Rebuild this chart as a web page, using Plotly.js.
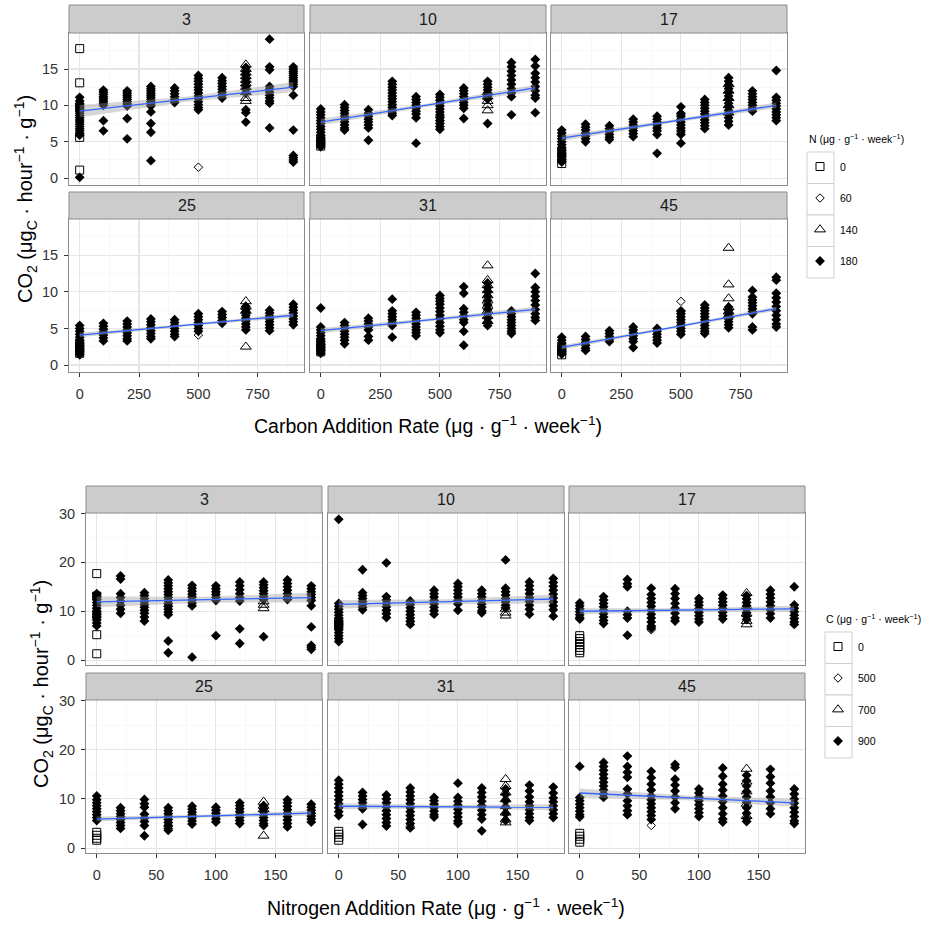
<!DOCTYPE html>
<html><head><meta charset="utf-8">
<script src="https://cdn.plot.ly/plotly-3.0.1.min.js"></script>
<style>html,body{margin:0;padding:0;background:#fff}#chart{width:929px;height:925px}</style>
</head><body><div id="chart"></div>
<script>
// ---------- categories ----------
const facets = ["3", "10", "17", "25", "31", "45"];
const carbonRates = [0, 100, 200, 300, 400, 500, 600, 700, 800, 900];
const nitrogenRates = [0, 20, 40, 60, 80, 100, 120, 140, 160, 180];
const nLevels = ["0", "60", "140", "180"];
const cLevels = ["0", "500", "700", "900"];
// rate at which the open-shape groups occur (top: carbon rate; bottom: nitrogen rate)
const topSquareAt = 0, topOpenDiaAt = 500, topTriAt = 700;
const botSquareAt = 0, botOpenDiaAt = 60, botTriAt = 140;

// ---------- TOP figure: CO2 vs carbon addition rate ----------
// filled diamonds (N = 180), one list per carbon rate
const topFilled3 = [
 [11.1,10.6,10.2,9.8,9.5,9.2,8.9,8.6,8.3,8.0,7.7,7.4,7.1,6.8,6.5,6.2,5.9,0.1],
 [12.1,11.8,11.5,11.2,10.9,10.6,10.3,10.0,7.9,6.5],
 [12.0,11.7,11.4,11.1,10.8,10.5,10.2,9.9,8.2,5.4],
 [12.6,12.3,12.0,11.7,11.4,11.1,10.8,10.5,10.2,9.9,9.1,7.5,6.3,2.4],
 [12.4,12.0,11.6,11.2,10.8,10.4],
 [14.1,13.7,13.3,12.9,12.5,12.1,11.7,11.3,10.9,10.5,10.1,9.7,9.4],
 [13.8,13.4,13.0,12.6,12.2,11.8,11.4,11.0],
 [15.2,14.7,14.2,13.7,13.2,12.7,12.2,11.7,9.4,9.0,7.7],
 [19.1,15.3,14.9,12.6,12.2,11.8,11.4,11.0,10.6,10.3,6.9],
 [15.3,15.0,14.7,14.4,14.1,13.8,13.5,13.2,12.9,12.6,11.4,6.6,3.1,2.8,2.5,2.2]
];
const topSquare3 = [17.8,13.1,9.8,5.6,1.1];
const topOpenDia3 = [1.5];
const topTri3 = [15.6,15.0,14.5,14.0,13.5,13.0,12.5,11.8,11.0,10.6];

const topFilled10 = [
 [9.5,9.1,8.7,8.3,7.9,7.5,7.1,6.7,6.3,5.9,5.5,5.1,4.7,4.3],
 [10.1,9.7,9.3,8.9,8.5,8.1,7.7,7.3,6.9,6.6],
 [9.4,8.9,8.5,8.1,7.7,7.3,6.9,5.2],
 [13.3,12.9,12.5,12.1,11.7,11.3,10.9,10.5,10.1,9.7,9.3,8.9,8.6],
 [11.2,10.8,10.4,10.0,9.6,9.2,8.8,8.3,4.8],
 [11.5,11.1,10.7,10.3,9.9,9.5,9.1,8.7,8.3,7.9,7.5,7.1,6.7],
 [12.4,12.0,11.6,11.2,10.8,10.4,10.0,9.6,8.2],
 [13.3,12.9,12.5,12.1,11.7,11.3,10.9,7.5],
 [15.9,15.3,14.7,14.1,13.5,12.9,12.3,11.7,11.2,8.7],
 [16.3,15.4,14.4,13.8,13.2,12.6,12.0,11.4,11.0,9.0]
];
const topSquare10 = [5.4,4.9,4.4];
const topOpenDia10 = [8.5,7.9];
const topTri10 = [11.8,11.2,10.6,10.0,9.3];

const topFilled17 = [
 [6.6,6.2,5.8,5.4,5.0,4.6,4.2,3.8,3.4,3.0,2.6,2.2],
 [7.4,7.0,6.6,6.2,5.8,5.4,5.0],
 [7.2,6.8,6.4,6.0,5.6,5.3],
 [8.1,7.7,7.3,6.9,6.5,6.1,5.7],
 [8.5,8.1,7.7,7.3,6.9,6.5,6.0,3.4],
 [9.8,8.9,8.5,8.1,7.7,7.3,6.9,6.5,6.0,4.8],
 [10.8,10.4,10.0,9.6,9.2,8.8,8.4,8.0,7.6,7.2,6.8],
 [13.8,13.3,12.8,12.3,11.8,11.3,10.8,10.3,9.8,9.3,8.8,8.3,7.8,7.3],
 [12.0,11.6,11.2,10.8,10.4,10.0,9.6,9.2],
 [14.8,11.1,10.7,10.3,9.9,9.5,9.1,8.7,8.3,7.9]
];
const topSquare17 = [3.6,2.8,2.0];
const topOpenDia17 = [8.7,6.2];
const topTri17 = [12.9,12.0,11.0,10.0,9.0];

const topFilled25 = [
 [5.4,5.0,4.6,4.2,3.8,3.4,3.0,2.6,2.2,1.8,1.4],
 [5.7,5.3,4.9,4.5,4.1,3.7,3.3],
 [6.0,5.6,5.2,4.8,4.4,4.0,3.6,3.3],
 [6.3,5.9,5.5,5.1,4.7,4.3,3.9,3.6],
 [6.2,5.8,5.4,5.0,4.6,4.2,3.9],
 [7.0,6.6,6.2,5.8,5.4,5.0,4.6],
 [7.3,6.9,6.5,6.1,5.7],
 [8.0,7.6,7.2,6.8,6.4,6.0,5.6,5.2,4.8],
 [7.5,7.1,6.7,6.3,5.9,5.5,5.1,4.7],
 [8.3,7.9,7.5,7.1,6.7,6.3,5.9,5.5]
];
const topSquare25 = [3.0,2.5,2.0,1.6];
const topOpenDia25 = [4.1];
const topTri25 = [8.7,8.0,7.4,2.5];

const topFilled31 = [
 [7.8,5.2,4.8,4.4,4.0,3.6,3.2,2.8,2.4,2.0,1.6],
 [5.8,5.4,5.0,4.6,4.2,3.8,3.4,2.9],
 [6.4,6.0,5.6,5.2,4.8,3.9,3.4],
 [9.0,7.4,7.0,6.6,6.2,5.8,5.4,3.8],
 [7.2,6.8,6.4,6.0,5.6,5.2,4.8,4.4,4.0],
 [9.5,9.1,8.7,8.3,7.8,7.3,6.8,6.3,5.8,5.3,4.8,4.4],
 [10.7,9.8,7.7,7.2,6.7,6.2,5.8,4.6,2.7],
 [11.2,10.6,10.0,9.4,8.8,8.2,7.6,7.0,6.4,5.8,5.4],
 [7.4,7.0,6.6,6.2,5.8,5.4,5.0,4.6,4.3],
 [12.5,10.6,10.0,9.4,8.8,8.2,7.6,7.0,6.5,6.1]
];
const topSquare31 = [3.0,2.4,1.8];
const topOpenDia31 = [6.4];
const topTri31 = [13.6,11.6,10.9,10.2,9.5,8.8,8.1,7.4,6.7,6.0];

const topFilled45 = [
 [3.8,3.4,3.0,2.6,2.2,1.8,1.5],
 [3.9,3.5,3.1,2.7,2.3,2.0],
 [4.7,4.3,3.9,3.5,3.2],
 [5.2,4.8,4.4,4.0,3.6,3.2,2.4],
 [5.0,4.6,4.2,3.8,3.4,3.0],
 [7.4,7.0,6.6,6.2,5.8,5.4,5.0,4.6,4.2],
 [8.2,7.8,7.4,7.0,6.6,6.2,5.8,5.4,5.0,4.6,4.3],
 [7.9,7.5,7.1,6.7,6.3,5.9,5.5,5.1],
 [10.2,9.3,8.9,8.5,8.1,7.7,7.3,7.0,5.2,4.8],
 [12.0,11.6,9.8,9.2,8.6,8.0,7.4,6.8,6.2,5.6,5.2]
];
const topSquare45 = [2.4,1.9,1.4];
const topOpenDia45 = [8.7,7.3];
const topTri45 = [16.0,11.0,9.1,7.9,7.3,6.8];

// linear fit (value at first and last rate) and CI half-width at start/mid/end
const topFitStart = [9.2, 7.7, 5.5, 4.1, 4.7, 2.4];
const topFitEnd = [12.5, 12.4, 10.0, 6.8, 7.6, 7.7];
const topBandHalf = [[0.85,0.35,0.7],[0.45,0.2,0.45],[0.4,0.2,0.4],[0.3,0.15,0.3],[0.35,0.2,0.35],[0.3,0.15,0.3]];

// ---------- BOTTOM figure: CO2 vs nitrogen addition rate ----------
const botFilled3 = [
 [13.6,13.0,12.4,11.8,11.2,10.6,10.0,9.4,8.8,8.2,7.6,7.0],
 [17.2,16.6,13.6,12.8,12.0,11.2,10.4,9.6],
 [13.8,13.2,12.6,12.0,11.4,10.8,10.2,9.6,8.8,8.0],
 [16.4,15.8,15.2,14.6,14.0,13.4,12.8,12.2,11.6,11.0,10.4,9.8,9.3,3.9,1.5],
 [15.3,14.7,14.1,13.5,12.9,12.3,11.7,11.1,0.6],
 [15.2,14.6,14.0,13.4,12.8,12.2,5.0],
 [16.0,15.2,14.4,13.6,12.8,12.1,6.4,3.4],
 [16.0,15.4,14.8,14.2,13.6,13.0,12.4,4.8],
 [16.4,15.7,15.0,14.3,13.6,12.9,12.4],
 [15.2,14.6,14.0,13.4,12.8,12.2,11.1,6.8,3.0,2.6,2.2]
];
const botSquare3 = [17.7,13.1,9.3,5.2,1.3];
const botOpenDia3 = [11.5,11.0];
const botTri3 = [12.0,11.3,10.6];

const botFilled10 = [
 [28.8,11.6,11.0,10.4,9.8,9.2,8.6,8.0,7.4,6.8,6.2,5.6,5.0,4.4,3.8],
 [18.5,13.8,13.2,12.6,12.0,11.4,10.8,10.3],
 [19.9,13.0,12.3,11.6,10.9,10.2,9.5,8.7],
 [12.1,11.4,10.7,10.0,9.3,8.6,7.9,7.3],
 [14.3,13.6,12.9,12.2,11.5,10.8,10.1,9.4],
 [15.7,15.0,14.3,13.6,12.9,12.2,11.5,10.2],
 [14.3,13.6,12.9,12.2,11.5,10.8,10.1,9.7],
 [20.5,14.7,14.0,13.3,12.6,11.9,11.2,10.7],
 [16.0,15.2,14.4,13.6,12.8,12.0,11.2,10.4,9.4],
 [16.7,15.9,15.1,14.3,13.5,12.7,11.9,11.1,10.3,9.0]
];
const botSquare10 = [7.8,7.0];
const botOpenDia10 = [8.0];
const botTri10 = [10.5,9.7,9.1];

const botFilled17 = [
 [11.7,11.1,10.5,9.9,9.3,8.7,8.4],
 [13.0,12.3,11.6,10.9,10.2,9.5,8.8,8.1,7.5],
 [16.5,15.6,15.0,10.0,9.3,8.6,5.1],
 [14.7,13.4,12.6,11.8,11.0,10.2,9.4,8.6,7.8,7.0,6.5],
 [14.6,13.6,12.6,11.6,10.6,9.6,8.6,8.0],
 [12.6,11.9,11.2,10.5,9.8,9.1,8.4,7.8],
 [13.3,12.6,11.9,11.2,10.5,9.8,9.1,8.4],
 [13.2,12.5,11.8,11.1,10.4,9.7,9.0,8.3],
 [14.3,13.5,12.7,11.9,11.1,10.3,9.5,8.6],
 [15.0,11.3,10.6,9.9,9.2,8.5,7.8,7.3]
];
const botSquare17 = [5.0,4.4,3.8,3.2,2.6,2.0,1.5];
const botOpenDia17 = [6.8,6.2];
const botTri17 = [13.7,11.0,9.5,8.0,7.3];

const botFilled25 = [
 [10.6,9.8,9.2,8.6,8.0,7.4,6.8,6.2,5.6],
 [8.2,7.6,7.0,6.4,5.8,5.2,4.6,4.0],
 [9.9,9.0,8.3,6.9,6.1,5.4,4.6,2.5],
 [8.2,7.6,7.0,6.4,5.8,5.2,4.6,4.0,3.6],
 [8.5,7.9,7.3,6.7,6.1,5.5,4.9],
 [8.3,7.7,7.1,6.5,5.9,5.3],
 [9.2,8.6,8.0,7.4,6.8,6.2,5.6,5.0],
 [8.6,8.0,7.4,6.8,6.2,5.6,5.0,4.6],
 [9.8,9.2,8.5,7.8,7.1,6.4,5.7,5.0,4.3],
 [8.9,8.3,7.7,7.1,6.5,5.9,5.3]
];
const botSquare25 = [3.2,2.6,2.0,1.6];
const botOpenDia25 = [4.4];
const botTri25 = [9.4,8.6,7.9,2.5];

const botFilled31 = [
 [13.8,13.0,12.2,11.4,10.6,9.8,9.0,8.2,7.4,6.6],
 [11.3,10.6,9.9,9.2,8.5,8.0,4.8],
 [10.8,10.0,9.2,8.4,7.6,6.8,6.0,5.2,4.5],
 [12.2,11.4,10.6,9.8,9.0,8.2,7.4,6.6,5.8,5.0,4.1],
 [10.3,9.6,8.9,8.2,7.5,6.8,6.3],
 [13.2,10.3,9.5,8.7,7.9,7.1,6.3,5.5,5.0],
 [12.2,11.3,10.4,9.5,8.6,7.7,6.8,5.9,3.5],
 [12.0,10.9,9.6,8.3,7.0,5.6],
 [12.8,11.6,10.4,9.4,8.6,7.8,7.0,6.2,5.6],
 [12.4,11.2,10.2,9.4,8.6,7.8,7.0,6.2]
];
const botSquare31 = [3.4,2.8,2.2,1.6];
const botOpenDia31 = [4.4];
const botTri31 = [14.0,12.6,11.3,9.9,8.5,7.2,5.8,5.2];

const botFilled45 = [
 [16.6,10.3,9.6,8.9,8.2,7.5,6.8,6.3],
 [17.4,16.6,15.8,15.0,14.2,13.4,12.6,11.8,11.0,10.3],
 [18.7,16.6,15.4,14.4,12.0,11.0,9.6,8.6,7.6,6.8],
 [15.6,14.3,13.0,11.8,10.6,9.8,9.0,8.2,7.4,6.6,5.8],
 [17.0,16.4,14.0,12.8,11.6,10.4,9.2,8.0],
 [12.0,11.2,10.4,9.6,8.8,8.0,7.2,6.4],
 [16.3,14.6,13.0,11.8,10.6,9.4,8.2,7.0,5.9,5.3],
 [14.8,13.7,12.6,11.5,10.4,9.3,8.2,7.1,6.0,5.4],
 [16.0,14.5,13.2,11.6,10.4,9.2,8.0,7.0],
 [12.0,11.0,10.0,9.1,8.2,7.3,6.4,5.5,5.0]
];
const botSquare45 = [3.0,2.4,1.8,1.2];
const botOpenDia45 = [4.6];
const botTri45 = [16.1,13.5,11.5,9.0,6.5];

const botFitStart = [11.9, 11.4, 10.0, 5.9, 8.5, 11.2];
const botFitEnd = [12.8, 12.5, 10.5, 7.1, 8.3, 9.2];
const botBandHalf = [[1.1,0.6,1.0],[0.9,0.5,0.9],[0.6,0.35,0.6],[0.5,0.3,0.5],[0.6,0.35,0.6],[0.9,0.5,0.8]];

// ---------- build ----------
const W = 929, H = 925;
const FONT = "Liberation Sans, Arial, sans-serif";
const topCols = [[69,304],[310,546],[551,787]];
const topRows = [[33,185],[219,372]];
const topStrips = [[5,33],[192,219]];
const botCols = [[86,322],[328,564],[569,805]];
const botRows = [[513,665],[700,853]];
const botStrips = [[486,513],[673,700]];

const figs = [
  {rates: carbonRates, filled: [topFilled3,topFilled10,topFilled17,topFilled25,topFilled31,topFilled45],
   sq: [topSquare3,topSquare10,topSquare17,topSquare25,topSquare31,topSquare45],
   od: [topOpenDia3,topOpenDia10,topOpenDia17,topOpenDia25,topOpenDia31,topOpenDia45],
   tr: [topTri3,topTri10,topTri17,topTri25,topTri31,topTri45],
   sqAt: topSquareAt, odAt: topOpenDiaAt, trAt: topTriAt,
   fs: topFitStart, fe: topFitEnd, bh: topBandHalf, levels: nLevels, legend: 'legend',
   cols: topCols, rows: topRows, strips: topStrips,
   xr: [-45, 945], yr: [-0.95, 19.95], xd: 250, xm: 125, yd: 5, ym: 2.5},
  {rates: nitrogenRates, filled: [botFilled3,botFilled10,botFilled17,botFilled25,botFilled31,botFilled45],
   sq: [botSquare3,botSquare10,botSquare17,botSquare25,botSquare31,botSquare45],
   od: [botOpenDia3,botOpenDia10,botOpenDia17,botOpenDia25,botOpenDia31,botOpenDia45],
   tr: [botTri3,botTri10,botTri17,botTri25,botTri31,botTri45],
   sqAt: botSquareAt, odAt: botOpenDiaAt, trAt: botTriAt,
   fs: botFitStart, fe: botFitEnd, bh: botBandHalf, levels: cLevels, legend: 'legend2',
   cols: botCols, rows: botRows, strips: botStrips,
   xr: [-9, 189], yr: [-1.0, 30.1], xd: 50, xm: 25, yd: 10, ym: 5}
];

const traces = [];
const layout = {
  width: W, height: H, margin: {l:0, r:0, t:0, b:0},
  paper_bgcolor: '#fff', plot_bgcolor: '#fff', showlegend: true,
  font: {family: FONT, color: '#000'},
  shapes: [], annotations: []
};

figs.forEach((f, fi) => {
  facets.forEach((fac, i) => {
    const k = fi * 6 + i + 1;
    const xa = 'x' + (k === 1 ? '' : k), ya = 'y' + (k === 1 ? '' : k);
    const col = f.cols[i % 3], row = f.rows[Math.floor(i / 3)], strip = f.strips[Math.floor(i / 3)];
    const leftCol = i % 3 === 0, bottomRow = i >= 3;
    const axStyle = {
      showgrid: true, gridcolor: '#e6e6e6', gridwidth: 1.1, zeroline: false,
      showline: true, mirror: true, linecolor: '#8c8c8c', linewidth: 1,
      tickcolor: '#333', ticklen: 4, tickwidth: 1,
      tickfont: {family: FONT, size: 14.5, color: '#333'}, tickmode: 'linear', tick0: 0
    };
    layout['xaxis' + (k === 1 ? '' : k)] = Object.assign({}, axStyle, {
      domain: [col[0] / W, col[1] / W], range: f.xr, anchor: ya, dtick: f.xd,
      minor: {dtick: f.xm, tick0: 0, showgrid: true, gridcolor: '#f3f3f3', gridwidth: 0.6},
      ticks: bottomRow ? 'outside' : '', showticklabels: bottomRow, ticklabelstandoff: 5
    });
    layout['yaxis' + (k === 1 ? '' : k)] = Object.assign({}, axStyle, {
      domain: [1 - row[1] / H, 1 - row[0] / H], range: f.yr, anchor: xa, dtick: f.yd,
      minor: {dtick: f.ym, tick0: 0, showgrid: true, gridcolor: '#f3f3f3', gridwidth: 0.6},
      ticks: leftCol ? 'outside' : '', showticklabels: leftCol, ticklabelstandoff: 3
    });
    // strip
    layout.shapes.push({type: 'rect', xref: 'paper', yref: 'paper',
      x0: col[0] / W, x1: col[1] / W, y0: 1 - strip[1] / H, y1: 1 - strip[0] / H,
      fillcolor: '#cccccc', line: {color: '#8c8c8c', width: 1}});
    layout.annotations.push({text: fac, xref: 'paper', yref: 'paper', showarrow: false,
      x: (col[0] + col[1]) / 2 / W, y: 1 - (strip[0] + strip[1]) / 2 / H,
      xanchor: 'center', yanchor: 'middle', font: {size: 16, color: '#1a1a1a'}});

    // points
    const fx = [], fy = [];
    f.filled[i].forEach((vals, j) => vals.forEach(v => { fx.push(f.rates[j]); fy.push(v); }));
    const showL = i === 0;
    traces.push({type: 'scatter', mode: 'markers', xaxis: xa, yaxis: ya, x: fx, y: fy,
      name: f.levels[3], legend: f.legend, legendgroup: f.legend + 'd', legendrank: 4, showlegend: showL,
      marker: {symbol: 'diamond', size: 7.6, color: '#000', line: {width: 0}}});
    traces.push({type: 'scatter', mode: 'markers', xaxis: xa, yaxis: ya,
      x: f.sq[i].map(() => f.sqAt), y: f.sq[i],
      name: f.levels[0], legend: f.legend, legendgroup: f.legend + 'a', legendrank: 1, showlegend: showL,
      marker: {symbol: 'square-open', size: 8, color: '#000', line: {width: 1}}});
    traces.push({type: 'scatter', mode: 'markers', xaxis: xa, yaxis: ya,
      x: f.od[i].map(() => f.odAt), y: f.od[i],
      name: f.levels[1], legend: f.legend, legendgroup: f.legend + 'b', legendrank: 2, showlegend: showL,
      marker: {symbol: 'diamond-open', size: 6.5, color: '#000', line: {width: 1}}});
    traces.push({type: 'scatter', mode: 'markers', xaxis: xa, yaxis: ya,
      x: f.tr[i].map(() => f.trAt), y: f.tr[i],
      name: f.levels[2], legend: f.legend, legendgroup: f.legend + 'c', legendrank: 3, showlegend: showL,
      marker: {symbol: 'triangle-up-open', size: 9.5, color: '#000', line: {width: 1}}});

    // fit band + line
    const x0 = f.rates[0], x1 = f.rates[f.rates.length - 1], xm = (x0 + x1) / 2;
    const s = f.fs[i], e = f.fe[i], m = (s + e) / 2, h = f.bh[i];
    traces.push({type: 'scatter', mode: 'lines', xaxis: xa, yaxis: ya, showlegend: false,
      x: [x0, xm, x1, x1, xm, x0], y: [s - h[0], m - h[1], e - h[2], e + h[2], m + h[1], s + h[0]],
      fill: 'toself', fillcolor: 'rgba(153,153,153,0.4)', line: {width: 0}});
    traces.push({type: 'scatter', mode: 'lines', xaxis: xa, yaxis: ya, showlegend: false,
      x: [x0, x1], y: [s, e], line: {color: '#3366FF', width: 1.3}});
  });
});

// axis titles
const yTitle = 'CO<sub>2</sub> (μg<sub>C</sub> · hour<sup>−1</sup> · g<sup>−1</sup>)';
layout.annotations.push(
  {text: yTitle, textangle: -90, xref: 'paper', yref: 'paper', showarrow: false,
   x: 25 / W, y: 1 - 199 / H, xanchor: 'center', yanchor: 'middle', font: {size: 20, color: '#000'}},
  {text: yTitle, textangle: -90, xref: 'paper', yref: 'paper', showarrow: false,
   x: 41 / W, y: 1 - 684 / H, xanchor: 'center', yanchor: 'middle', font: {size: 20, color: '#000'}},
  {text: 'Carbon Addition Rate (μg · g<sup>−1</sup> · week<sup>−1</sup>)', xref: 'paper', yref: 'paper', showarrow: false,
   x: 428 / W, y: 1 - 425 / H, xanchor: 'center', yanchor: 'middle', font: {size: 19.5, color: '#000'}},
  {text: 'Nitrogen Addition Rate (μg · g<sup>−1</sup> · week<sup>−1</sup>)', xref: 'paper', yref: 'paper', showarrow: false,
   x: 446 / W, y: 1 - 907 / H, xanchor: 'center', yanchor: 'middle', font: {size: 19.5, color: '#000'}},
  {text: 'N (μg · g<sup>−1</sup> · week<sup>−1</sup>)', xref: 'paper', yref: 'paper', showarrow: false,
   x: 807 / W, y: 1 - 138 / H, xanchor: 'left', yanchor: 'middle', font: {size: 10.5, color: '#000'}},
  {text: 'C (μg · g<sup>−1</sup> · week<sup>−1</sup>)', xref: 'paper', yref: 'paper', showarrow: false,
   x: 824 / W, y: 1 - 618 / H, xanchor: 'left', yanchor: 'middle', font: {size: 10.5, color: '#000'}}
);

// legend key cells
[[807, 152], [825, 632]].forEach(([lx, ly]) => {
  for (let r = 0; r < 4; r++) {
    layout.shapes.push({type: 'rect', xref: 'paper', yref: 'paper',
      x0: lx / W, x1: (lx + 27) / W, y0: 1 - (ly + (r + 1) * 31.5) / H, y1: 1 - (ly + r * 31.5) / H,
      fillcolor: '#fff', line: {color: '#d0d0d0', width: 1}});
  }
});

const legendStyle = {xanchor: 'left', yanchor: 'top', font: {size: 10.5, color: '#000', family: FONT},
  bgcolor: 'rgba(0,0,0,0)', borderwidth: 0, tracegroupgap: 12.5, itemwidth: 30, traceorder: 'grouped'};
layout.legend = Object.assign({}, legendStyle, {x: 800 / W, y: 1 - 152 / H});
layout.legend2 = Object.assign({}, legendStyle, {x: 818 / W, y: 1 - 632 / H});

Plotly.newPlot('chart', traces, layout, {staticPlot: true, displayModeBar: false});
</script>
</body></html>
